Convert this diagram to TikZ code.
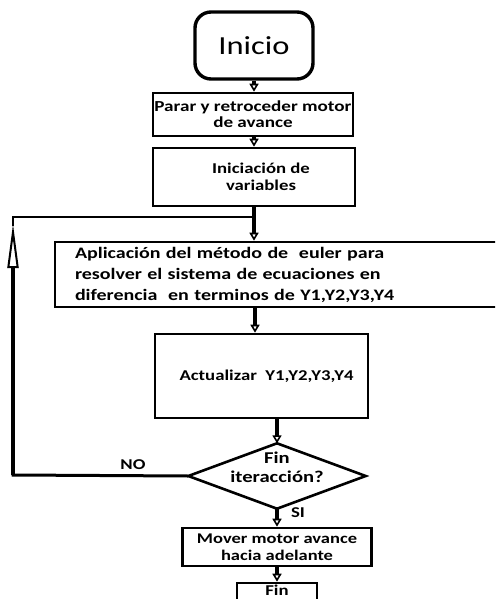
\documentclass[tikz,border=0pt]{standalone}
\usepackage{fontspec}
\setmainfont{Carlito}[FakeStretch=1.25]
\usetikzlibrary{arrows.meta,positioning}

\begin{document}
\begin{tikzpicture}[x=1pt,y=-1pt,>=Stealth,
every node/.style={font=\bfseries\fontsize{15}{16.5}\selectfont,align=center},
box/.style={draw,line width=2.6pt,inner sep=0pt},
flow/.style={line width=3.8pt,-{Triangle[open,length=8pt,width=9pt,line width=1.6pt]}}]
\clip (0,0) rectangle (495,599);
\node[box,line width=3.4pt,rounded corners=16pt,minimum width=118pt,minimum height=67pt,
  font=\fontsize{26}{28}\selectfont] (inicio) at (254,45.5) {Inicio};
\node[box,minimum width=200pt,minimum height=43pt,font=\bfseries\fontsize{15.3}{16}\selectfont] (parar) at (253,114.5) {Parar y retroceder motor\\de avance};
\node[box,minimum width=202pt,minimum height=58pt] (inic) at (254,177) {\hspace*{14pt}Iniciación de\\\hspace*{14pt}variables};
\node[box,minimum width=470pt,minimum height=65pt,inner xsep=20pt,text width=430pt,align=left,
  font=\bfseries\fontsize{16}{21}\selectfont] (aplic) at (290,274.5)
  {Aplicación del método de \ euler para\\resolver el sistema de ecuaciones en\\diferencia \ en terminos de Y1,Y2,Y3,Y4};
\node[box,minimum width=213pt,minimum height=84pt] (actual) at (261.5,376) {\hspace*{10pt}Actualizar \ Y1,Y2,Y3,Y4};
\node[minimum width=177pt,minimum height=65pt,inner sep=0pt,text depth=17pt,
  font=\bfseries\fontsize{16.5}{19}\selectfont] (dia) at (277,476) {Fin\\iteracción?};
\draw[line width=2.6pt,line join=miter] (dia.north) -- (dia.east) -- (dia.south) -- (dia.west) -- cycle;
\node[box,minimum width=189pt,minimum height=38pt,font=\bfseries\fontsize{14.8}{17}\selectfont] (mover) at (277,547) {Mover motor avance\\hacia adelante};
\node[box,minimum width=80pt,minimum height=30pt,text depth=16pt] (fin) at (277,598) {Fin};
\node (no) at (133,465) {NO};
\node (si) at (298,513) {SI};
% flechas
\draw[flow] (inicio.south) -- (inicio.south |- parar.north);
\draw[flow] (inicio.south |- parar.south) -- (inicio.south |- inic.north);
\draw[flow] (inic.south) -- (inic.south |- aplic.north);
\draw[flow] (aplic.south -| 255,0) -- (actual.north -| 255,0);
\draw[flow] (actual.south -| dia.north) -- (dia.north);
\draw[flow] (dia.south) -- (mover.north);
\draw[flow] (mover.south) -- (fin.north);
% lazo
\coordinate (noc) at (13,475);
\coordinate (topc) at (13,217);
\coordinate (joinc) at (inic.south |- topc);
\draw[line width=3pt] (dia.west) -- (noc) -- (13,272);
\draw[line width=3.6pt,-{Triangle[open,length=44pt,width=11pt,line width=2pt]}] (noc) -- (13,224);
\draw[line width=2pt] (13,226) -- (topc) -- (joinc);
\end{tikzpicture}
\end{document}
